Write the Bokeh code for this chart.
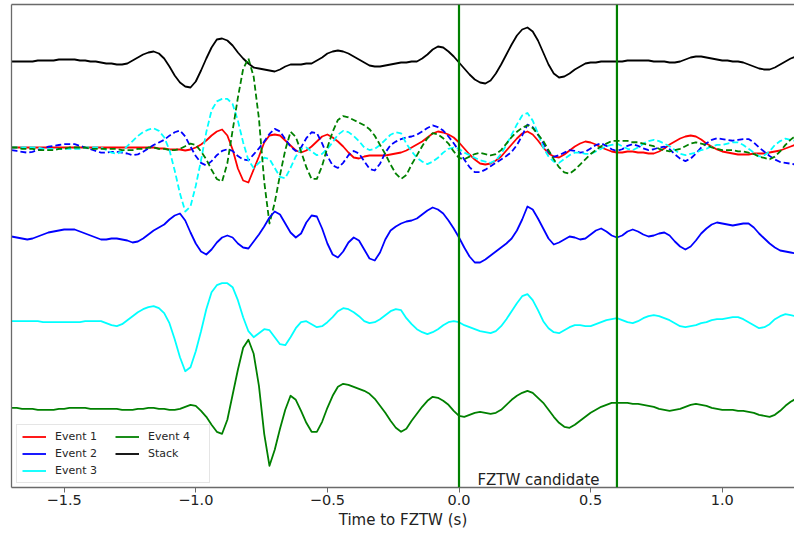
import numpy as np
from bokeh.plotting import figure
from bokeh.models import (Range1d, FixedTicker, LinearAxis, Span, Label,
                          Legend, LegendItem)
from bokeh.embed import file_html
from bokeh.resources import INLINE

# Sampling of the traces (s)
T0 = -1.70
DT = 0.02

# Waveform amplitudes (arbitrary units), one sample every DT seconds
stack = [0, 0, 0, 0, 0, 1, 1, 1, 1, 2, 2, 2, 2, 1, 1, 0, 0, -1, -2, -2,
         -3, -3, -2, 1, 4, 7, 9, 10, 8, 3, -5, -14, -21, -25, -26, -20, -9, 3, 14, 22,
         23, 21, 16, 9, 3, -2, -6, -7, -8, -9, -10, -8, -5, -3, -3, -3, -2, -2, 1, 4,
         8, 10, 11, 10, 8, 5, 2, -1, -4, -5, -5, -4, -3, -2, -1, -1, 0, 0, 3, 7,
         12, 15, 14, 10, 5, -1, -7, -13, -18, -21, -22, -19, -12, -3, 7, 17, 26, 32, 34, 30,
         21, 9, -3, -12, -16, -15, -12, -8, -5, -2, -1, -1, 0, 0, 0, 0, 0, 1, 1, 1,
         1, 1, 0, 0, 0, -1, -1, 0, 2, 4, 5, 5, 4, 3, 2, 1, 1, 0, 0, -1,
         -3, -5, -7, -8, -8, -6, -3, 0, 3, 5]

event1 = [0, 0, 0, 0, 0, 0, 0, 0, 0, 0, 0, 0, 0, 0, 0, 0, 0, 0, 0, 0,
          0, 0, 0, 0, 0, 0, 0, 0, -1, -1, -2, -2, -2, -3, -2, 0, 3, 7, 12, 16,
          18, 12, -2, -21, -33, -35, -22, -9, 5, 12, 13, 12, 7, 2, -3, -5, -3, 1, 6, 11,
          13, 10, 6, 1, -5, -10, -11, -9, -8, -8, -8, -8, -7, -6, -5, -3, 0, 3, 6, 10,
          14, 16, 15, 13, 10, 5, -1, -7, -12, -16, -17, -16, -13, -9, -3, 3, 9, 14, 16, 13,
          7, 0, -6, -9, -10, -7, -3, 1, 4, 6, 5, 3, 0, -2, -4, -5, -5, -4, -4, -5,
          -5, -6, -6, -4, -1, 3, 6, 9, 11, 12, 11, 8, 4, 1, -2, -4, -5, -6, -7, -7,
          -7, -6, -6, -6, -5, -4, -3, -1, 1, 3]

event2 = [0, -1, -2, -3, -2, 0, 2, 4, 5, 6, 7, 7, 7, 5, 3, 1, -1, -3, -3, -2,
          -2, -3, -4, -6, -5, -2, 2, 6, 9, 12, 17, 21, 23, 16, 4, -7, -15, -18, -13, -6,
          -1, 1, -1, -7, -11, -12, -5, 2, 10, 19, 25, 22, 13, 4, -1, 3, 14, 21, 20, 8,
          -7, -18, -21, -15, -6, -1, -4, -13, -22, -24, -16, -3, 6, 10, 13, 15, 16, 18, 22, 26,
          29, 27, 23, 16, 8, -1, -11, -20, -26, -26, -23, -19, -15, -11, -7, -2, 6, 17, 30, 27,
          18, 8, -2, -8, -6, -3, 0, -1, -3, -2, 2, 6, 8, 5, 1, -1, 1, 5, 7, 5,
          2, 0, 1, 3, 4, 1, -5, -10, -13, -10, -4, 3, 8, 12, 14, 13, 12, 11, 12, 13,
          13, 9, 3, -2, -7, -11, -14, -15, -16, -17]

event3 = [0, 0, 0, 0, 0, 0, -1, -1, -1, -1, -1, -1, -1, -1, 0, 0, 0, 0, -2, -4,
          -5, -3, 1, 5, 9, 12, 14, 15, 13, 8, -2, -18, -36, -50, -46, -30, -10, 12, 29, 36,
          38, 38, 34, 21, 4, -10, -16, -12, -8, -9, -16, -23, -24, -16, -7, -1, 0, -3, -6, -5,
          -1, 4, 10, 13, 12, 9, 5, 0, -2, -1, 2, 6, 10, 12, 11, 3, -3, -8, -11, -13,
          -11, -8, -4, -1, 0, -1, -4, -6, -8, -10, -11, -12, -10, -5, 2, 10, 18, 25, 27, 21,
          11, 0, -7, -11, -12, -9, -6, -4, -4, -5, -5, -3, -1, 1, 2, 3, 1, -1, -2, 0,
          3, 5, 6, 5, 3, 1, -2, -5, -6, -5, -4, -2, -1, 1, 2, 2, 3, 4, 4, 2,
          -1, -4, -7, -6, -3, 2, 5, 7, 6, 5]

event4 = [0, 0, -1, -1, -1, -2, -2, -2, -2, -1, -1, 0, 0, 0, 0, -1, -1, -1, -1, -1,
          -1, -2, -2, -2, -1, -1, 0, 0, -1, -1, -2, -2, -1, 1, 3, 2, -3, -9, -17, -24,
          -26, -12, 13, 38, 60, 68, 54, 22, -26, -58, -42, -21, -2, 12, 8, -3, -15, -24, -24, -14,
          0, 12, 21, 24, 23, 21, 19, 17, 14, 9, 2, -5, -13, -20, -24, -21, -13, -6, 1, 7,
          11, 10, 7, 3, -3, -8, -9, -7, -5, -4, -5, -6, -5, -2, 3, 8, 12, 15, 17, 15,
          10, 5, -2, -9, -15, -19, -20, -17, -13, -9, -5, -2, 1, 3, 5, 5, 5, 5, 4, 4,
          3, 2, 1, -1, -2, -3, -2, -1, 1, 3, 4, 3, 2, 0, -1, -2, -2, -2, -3, -3,
          -4, -5, -7, -8, -9, -7, -3, 2, 6, 9]

# Vertical offsets of the rows and the gains used in the overlay row
TRACE_BASE = {"Event 4": 0.0, "Event 3": 86.6, "Event 2": 171.3,
              "Overlay": 260.3, "Stack": 346.3}
OVERLAY_GAIN = {"Event 1": 1.0, "Event 2": 0.85, "Event 3": 1.28, "Event 4": 1.31}
OVERLAY_SHIFT = {"Event 1": 0.0, "Event 2": -2.6, "Event 3": 0.0, "Event 4": 0.0}

CANDIDATE_WINDOW = [0.0, 0.6]
X_TICKS = [-1.5, -1.0, -0.5, 0.0, 0.5, 1.0]
X_TICK_LABELS = ["\u22121.5", "\u22121.0", "\u22120.5", "0.0", "0.5", "1.0"]

COLORS = {"Event 1": "red", "Event 2": "blue", "Event 3": "cyan",
          "Event 4": "green", "Stack": "black"}
FONT = "DejaVu Sans"
SPINE = "#6a6a6a"

waves = {"Event 1": np.array(event1, float), "Event 2": np.array(event2, float),
         "Event 3": np.array(event3, float), "Event 4": np.array(event4, float)}
time = T0 + DT * np.arange(len(stack))

p = figure(width=794, height=536, output_backend="svg", toolbar_location=None,
           x_range=Range1d(-1.70, 1.2745), y_range=Range1d(-79.7, 403.3),
           min_border_left=11, min_border_right=0, min_border_top=4,
           min_border_bottom=49, outline_line_color=None,
           background_fill_color="white", border_fill_color="white")
p.xgrid.visible = False
p.ygrid.visible = False

# bottom axis
xa = p.xaxis[0]
xa.ticker = FixedTicker(ticks=X_TICKS)
xa.major_label_overrides = dict(zip(X_TICKS, X_TICK_LABELS))
xa.minor_tick_line_color = None
xa.major_tick_out = 5
xa.major_tick_in = 0
xa.major_tick_line_color = SPINE
xa.axis_line_color = SPINE
xa.axis_line_width = 1.3
xa.major_label_standoff = 2
xa.major_label_text_font = FONT
xa.major_label_text_font_size = "14.5px"
xa.major_label_text_color = "#222222"
xa.axis_label = "Time to FZTW (s)"
xa.axis_label_text_font = FONT
xa.axis_label_text_font_size = "15px"
xa.axis_label_text_font_style = "normal"
xa.axis_label_text_color = "#222222"
xa.axis_label_standoff = 3

# left spine without ticks
ya = p.yaxis[0]
ya.ticker = FixedTicker(ticks=[])
ya.major_tick_out = 0
ya.major_tick_in = 0
ya.minor_tick_line_color = None
ya.major_label_standoff = 0
ya.axis_line_color = SPINE
ya.axis_line_width = 1.3

# top spine
top = LinearAxis(ticker=FixedTicker(ticks=[]), major_tick_out=0, major_tick_in=0,
                 minor_tick_line_color=None, major_label_standoff=0,
                 axis_line_color=SPINE, axis_line_width=1.3)
p.add_layout(top, "above")

LW = 1.8
renderers = {}

# stacked trace on top
renderers["Stack"] = p.line(time, TRACE_BASE["Stack"] + np.array(stack, float),
                            line_color=COLORS["Stack"], line_width=LW,
                            line_join="round")

# overlay row: event 1 solid, the others dashed
for name in ["Event 1", "Event 2", "Event 3", "Event 4"]:
    y = TRACE_BASE["Overlay"] + OVERLAY_SHIFT[name] + OVERLAY_GAIN[name] * waves[name]
    r = p.line(time, y, line_color=COLORS[name], line_width=LW, line_join="round",
               line_dash="solid" if name == "Event 1" else "6 3")
    if name == "Event 1":
        renderers[name] = r

# individual rows
for name in ["Event 2", "Event 3", "Event 4"]:
    renderers[name] = p.line(time, TRACE_BASE[name] + waves[name],
                             line_color=COLORS[name], line_width=LW,
                             line_join="round")

for t in CANDIDATE_WINDOW:
    p.add_layout(Span(location=t, dimension="height", line_color="green",
                      line_width=2.2))

p.add_layout(Label(x=0.07, y=-71.7, text="FZTW candidate", text_font=FONT,
                   text_font_size="15px", text_color="#222222",
                   text_baseline="alphabetic"))

items = [LegendItem(label=n, renderers=[renderers[n]])
         for n in ["Event 1", "Event 2", "Event 3", "Event 4", "Stack"]]
legend = Legend(items=items, location=(5, 4), orientation="vertical", nrows=3,
                label_text_font=FONT, label_text_font_size="11px",
                label_text_color="#262626", glyph_width=24, glyph_height=13,
                label_standoff=9, label_width=56, spacing=4, padding=5, margin=0,
                border_line_color="#cccccc", border_line_width=1,
                background_fill_color="white", background_fill_alpha=0.85)
p.add_layout(legend)

open("out.html", "w").write(file_html(p, INLINE))
